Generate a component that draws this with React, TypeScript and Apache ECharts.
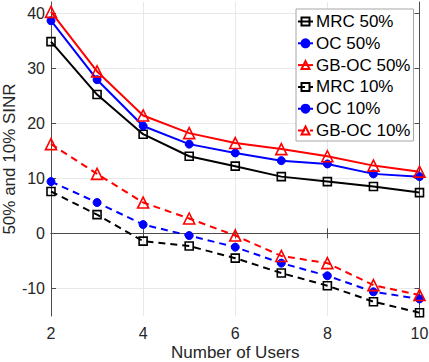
import React, { useEffect, useRef } from "react";
import * as echarts from "echarts";

const users = [2, 3, 4, 5, 6, 7, 8, 9, 10];
const mrc50 = [34.8, 25.2, 18.0, 14.0, 12.2, 10.3, 9.4, 8.5, 7.4];
const oc50 = [38.6, 27.9, 19.5, 16.2, 14.6, 13.2, 12.6, 10.8, 10.3];
const gb50 = [40.2, 29.4, 21.4, 18.2, 16.4, 15.3, 14.0, 12.3, 11.2];
const mrc10 = [7.6, 3.4, -1.4, -2.3, -4.5, -7.2, -9.5, -12.4, -14.4];
const oc10 = [9.4, 5.6, 1.6, -0.4, -2.5, -5.4, -7.7, -10.6, -11.9];
const gb10 = [16.2, 10.8, 5.6, 2.7, -0.4, -4.1, -5.4, -9.4, -11.2];
const yTicks = [-10, 0, 10, 20, 30, 40];

const FONT = "'Liberation Sans', Arial, Helvetica, sans-serif";

function mk(name: string, data: number[], color: string, symbol: string, size: number, filled: boolean, dashed: boolean) {
  return {
    name,
    type: "line",
    data: users.map((u, i) => [u, data[i]]),
    symbol,
    symbolSize: size,
    showSymbol: true,
    lineStyle: { color, width: 2, type: dashed ? [7, 5] : "solid" },
    itemStyle: filled
      ? { color, borderColor: color, borderWidth: 1 }
      : { color: "rgba(255,255,255,0)", borderColor: color, borderWidth: 1.6 },
    emphasis: { disabled: true },
    z: 3,
  };
}

export default function App() {
  const ref = useRef<HTMLDivElement>(null);
  useEffect(() => {
    const chart = echarts.init(ref.current!, null, { renderer: "svg" });
    const axisLine = { show: true, lineStyle: { color: "#4d4d4d", width: 1 } };
    const tickInside = { show: true, inside: true, length: 5, lineStyle: { color: "#4d4d4d", width: 1 } };
    chart.setOption({
      animation: false,
      backgroundColor: "#fff",
      textStyle: { fontFamily: FONT },
      grid: { left: 51, right: 9.5, top: 2, bottom: 46, containLabel: false, outerBoundsMode: "none" },
      legend: {
        orient: "vertical",
        left: 296,
        top: 9,
        padding: [4, 3, 2, 1],
        itemWidth: 15,
        itemHeight: 10,
        itemGap: 4.8,
        backgroundColor: "#fff",
        borderColor: "#a6a6a6",
        borderWidth: 1,
        textStyle: { fontSize: 17, color: "#000", fontFamily: FONT, lineHeight: 17, padding: [0, 0, 0, -2] },
        data: ["MRC 50%", "OC 50%", "GB-OC 50%", "MRC 10%", "OC 10%", "GB-OC 10%"],
      },
      xAxis: [
        {
          type: "value",
          min: 2,
          max: 10,
          interval: 2,
          name: "Number of Users",
          nameLocation: "middle",
          nameGap: 28,
          nameMoveOverlap: false,
          nameTextStyle: { fontSize: 17, lineHeight: 17, color: "#262626", fontFamily: FONT },
          axisLine,
          axisTick: tickInside,
          axisLabel: { fontSize: 16, color: "#262626", margin: 9, fontFamily: FONT },
          splitLine: { show: true, lineStyle: { color: "#e8e8e8", width: 1 } },
        },
        {
          type: "value",
          position: "top",
          min: 2,
          max: 10,
          interval: 2,
          axisLine,
          axisTick: tickInside,
          axisLabel: { show: false },
          splitLine: { show: false },
        },
      ],
      yAxis: [
        {
          type: "value",
          min: -15,
          max: 42,
          name: "50% and 10% SINR",
          nameLocation: "middle",
          nameGap: 33,
          nameMoveOverlap: false,
          nameTextStyle: { fontSize: 17, lineHeight: 17, color: "#262626", fontFamily: FONT },
          axisLine,
          axisTick: { ...tickInside, customValues: yTicks },
          axisLabel: { fontSize: 16, color: "#262626", margin: 6, fontFamily: FONT, customValues: yTicks },
          splitLine: { show: true, lineStyle: { color: "#e8e8e8", width: 1 } },
        },
        {
          type: "value",
          position: "right",
          min: -15,
          max: 42,
          axisLine,
          axisTick: { ...tickInside, customValues: yTicks },
          axisLabel: { show: false, customValues: yTicks },
          splitLine: { show: false },
        },
      ],
      series: [
        mk("MRC 50%", mrc50, "#000000", "rect", 8, false, false),
        mk("OC 50%", oc50, "#0000ff", "circle", 8, true, false),
        mk("GB-OC 50%", gb50, "#ff0000", "triangle", 11, false, false),
        mk("MRC 10%", mrc10, "#000000", "rect", 8, false, true),
        mk("OC 10%", oc10, "#0000ff", "circle", 8, true, true),
        mk("GB-OC 10%", gb10, "#ff0000", "triangle", 11, false, true),
      ],
    });
    return () => chart.dispose();
  }, []);
  return <div ref={ref} style={{ position: "absolute", left: 0, top: 0, width: 429, height: 362 }} />;
}
